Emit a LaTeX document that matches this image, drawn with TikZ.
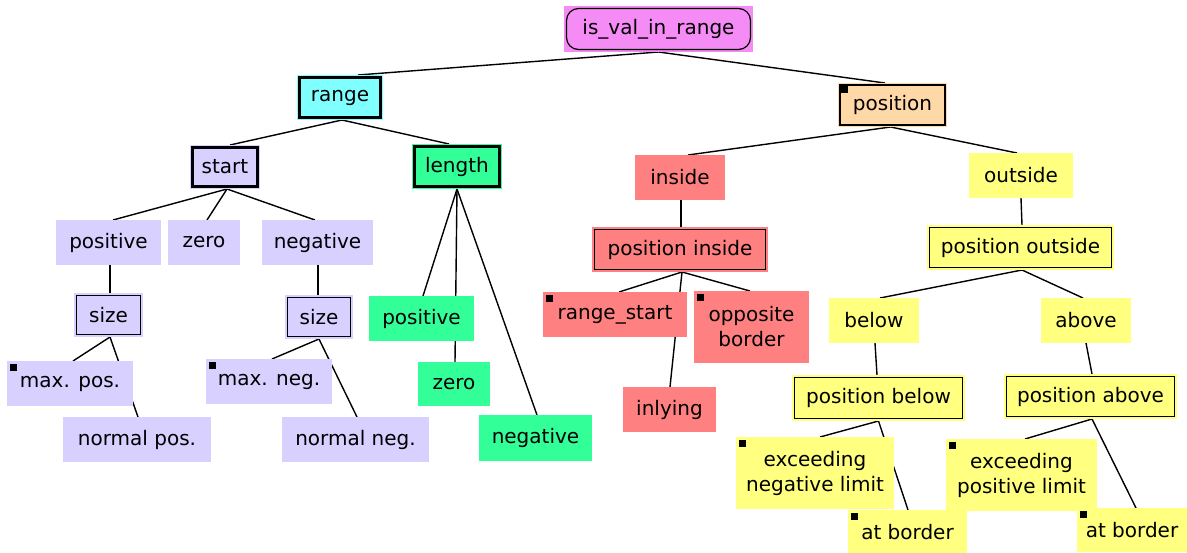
\documentclass[tikz,border=0pt]{standalone}
\usepackage{fontspec}
\setmainfont{DejaVu Sans}
\usetikzlibrary{backgrounds}
\definecolor{magc}{RGB}{245,140,245}
\definecolor{cyanc}{RGB}{128,255,255}
\definecolor{peach}{RGB}{255,216,168}
\definecolor{lav}{RGB}{216,208,255}
\definecolor{grn}{RGB}{51,255,153}
\definecolor{sal}{RGB}{255,128,128}
\definecolor{yel}{RGB}{255,255,128}
\newcommand\nodefont{\fontsize{20}{25}\selectfont}
\tikzset{
  base/.style={rectangle, inner sep=0pt, outer sep=0pt, font=\nodefont, text=black, align=center},
  sz/.style 2 args={minimum width=#1pt, minimum height=#2pt},
  lavbox/.style={base, fill=lav},
  grnbox/.style={base, fill=grn},
  salbox/.style={base, fill=sal},
  yelbox/.style={base, fill=yel},
  frame/.style={path picture={\draw[black, line width=#1]
      ([shift={(2.5pt,-2.5pt)}]path picture bounding box.north west) rectangle
      ([shift={(-2.5pt,2.5pt)}]path picture bounding box.south east);}},
  sqbox/.style={path picture={\fill[black]
      ([shift={(3pt,-3pt)}]path picture bounding box.north west) rectangle ++(7pt,-7pt);}},
  framesq/.style={path picture={\draw[black, line width=#1]
      ([shift={(2pt,-2pt)}]path picture bounding box.north west) rectangle
      ([shift={(-2pt,2pt)}]path picture bounding box.south east);
      \fill[black] ([shift={(3pt,-3pt)}]path picture bounding box.north west) rectangle ++(7pt,-7pt);}},
  roundframe/.style={path picture={\draw[black, line width=1.2pt, rounded corners=12pt]
      ([shift={(2.5pt,-2.5pt)}]path picture bounding box.north west) rectangle
      ([shift={(-2.5pt,2.5pt)}]path picture bounding box.south east);}},
  link/.style={draw=black, line width=1.4pt}
}
\begin{document}
\begin{tikzpicture}[x=1pt, y=-1pt]
\useasboundingbox (0,0) rectangle (1187,552);
% nodes
\node[base, fill=magc, roundframe, sz={189}{46}] (root) at (658.5,29) {is\_val\_in\_range};
\node[base, fill=cyanc, frame=3pt, sz={86}{45}] (range) at (340,97.5) {range};
\node[base, fill=peach, framesq=1.2pt, sz={109}{44}] (position) at (892.5,105) {position};
% range subtree
\node[lavbox, frame=2.2pt, sz={70}{44}] (start) at (225,167) {start};
\node[grnbox, frame=2.5pt, sz={90}{45}] (length) at (457,166.5) {length};
\node[lavbox, sz={105}{45}] (sposL) at (108.5,242.5) {positive};
\node[lavbox, sz={72}{45}] (szeroL) at (204,242.5) {zero};
\node[lavbox, sz={111}{45}] (snegL) at (317.5,242.5) {negative};
\node[lavbox, frame=1.6pt, sz={69}{44}] (sizeL) at (108.5,315) {size};
\node[lavbox, frame=1.6pt, sz={68}{44}] (sizeR) at (319,317) {size};
\node[lavbox, sqbox, sz={126}{45}] (maxpos) at (70,383.5) {max. pos.};
\node[lavbox, sqbox, sz={126}{45}] (maxneg) at (269,381.5) {max. neg.};
\node[lavbox, sz={148}{45}] (normpos) at (137,439.5) {normal pos.};
\node[lavbox, sz={147}{45}] (normneg) at (355.5,439.5) {normal neg.};
\node[grnbox, sz={105}{45}] (lposG) at (421.5,318.5) {positive};
\node[grnbox, sz={72}{44}] (lzeroG) at (454,384) {zero};
\node[grnbox, sz={113}{46}] (lnegG) at (535.5,438) {negative};
% position subtree
\node[salbox, sz={90}{45}] (inside) at (680,177.5) {inside};
\node[yelbox, sz={104}{45}] (outside) at (1021,175.5) {outside};
\node[salbox, frame=1.6pt, sz={176}{45}] (posinside) at (680,249.5) {position inside};
\node[yelbox, frame=1.6pt, sz={187}{45}] (posoutside) at (1020.5,247.5) {position outside};
\node[salbox, sqbox, sz={144}{45}] (rangestart) at (615,314.5) {range\_start};
\node[salbox, sqbox, sz={115}{72}] (opposite) at (751.5,327) {opposite\\border};
\node[salbox, sz={93}{45}] (inlying) at (669.5,409.5) {inlying};
\node[yelbox, sz={90}{45}] (below) at (874,320.5) {below};
\node[yelbox, sz={90}{45}] (above) at (1086,320.5) {above};
\node[yelbox, frame=1.6pt, sz={173}{46}] (posbelow) at (878.5,398) {position below};
\node[yelbox, frame=1.6pt, sz={173}{45}] (posabove) at (1090.5,396.5) {position above};
\node[yelbox, sqbox, sz={158}{72}] (excneg) at (815,473) {exceeding\\negative limit};
\node[yelbox, sqbox, sz={151}{72}] (excpos) at (1021.5,475) {exceeding\\positive limit};
\node[yelbox, sqbox, sz={119}{44}] (borderB) at (907.5,532) {at border};
\node[yelbox, sqbox, sz={110}{44}] (borderA) at (1132,530) {at border};
% connectors
\begin{scope}[on background layer]
\fill[white] (0,0) rectangle (1187,552);
\draw[link] (root.south) -- ([xshift=18pt]range.north);
\draw[link] (root.south) -- ([xshift=-7.5pt]position.north);
\draw[link] ([xshift=2pt]range.south) -- ([xshift=5pt]start.north);
\draw[link] ([xshift=2pt]range.south) -- ([xshift=-8pt]length.north);
\draw[link] ([xshift=-2pt]position.south) -- ([xshift=8pt]inside.north);
\draw[link] ([xshift=-2pt]position.south) -- ([xshift=-4pt]outside.north);
\draw[link] ([xshift=2pt]start.south) -- ([xshift=4.5pt]sposL.north);
\draw[link] ([xshift=2pt]start.south) -- ([xshift=3pt]szeroL.north);
\draw[link] ([xshift=2pt]start.south) -- ([xshift=-2.5pt]snegL.north);
\draw[link] ([xshift=1.5pt]sposL.south) -- ([xshift=1.5pt]sizeL.north);
\draw[link] ([xshift=0.5pt]snegL.south) -- ([xshift=-1pt]sizeR.north);
\draw[link] ([xshift=1.5pt]sizeL.south) -- ([xshift=3pt]maxpos.north);
\draw[link] ([xshift=1.5pt]sizeL.south) -- ([xshift=1pt]normpos.north);
\draw[link] (sizeR.south) -- ([xshift=3pt]maxneg.north);
\draw[link] (sizeR.south) -- ([xshift=1.5pt]normneg.north);
\draw[link] (length.south) -- ([xshift=1.5pt]lposG.north);
\draw[link] (length.south) -- ([xshift=1pt]lzeroG.north);
\draw[link] (length.south) -- ([xshift=1.5pt]lnegG.north);
\draw[link] ([xshift=1pt]inside.south) -- ([xshift=1pt]posinside.north);
\draw[link] ([xshift=2pt]posinside.south) -- ([xshift=4pt]rangestart.north);
\draw[link] ([xshift=2pt]posinside.south) -- ([xshift=-1.5pt]opposite.north);
\draw[link] ([xshift=2pt]posinside.south) -- ([xshift=0.5pt]inlying.north);
\draw[link] (outside.south) -- ([xshift=1.5pt]posoutside.north);
\draw[link] ([xshift=1.5pt]posoutside.south) -- ([xshift=6pt]below.north);
\draw[link] ([xshift=1.5pt]posoutside.south) -- ([xshift=-3pt]above.north);
\draw[link] ([xshift=1pt]below.south) -- ([xshift=-1.5pt]posbelow.north);
\draw[link] (above.south) -- ([xshift=1.5pt]posabove.north);
\draw[link] (posbelow.south) -- ([xshift=5pt]excneg.north);
\draw[link] (posbelow.south) -- ([xshift=0.5pt]borderB.north);
\draw[link] ([xshift=1.5pt]posabove.south) -- ([xshift=3.5pt]excpos.north);
\draw[link] ([xshift=1.5pt]posabove.south) -- ([xshift=4pt]borderA.north);
\end{scope}
\end{tikzpicture}
\end{document}
